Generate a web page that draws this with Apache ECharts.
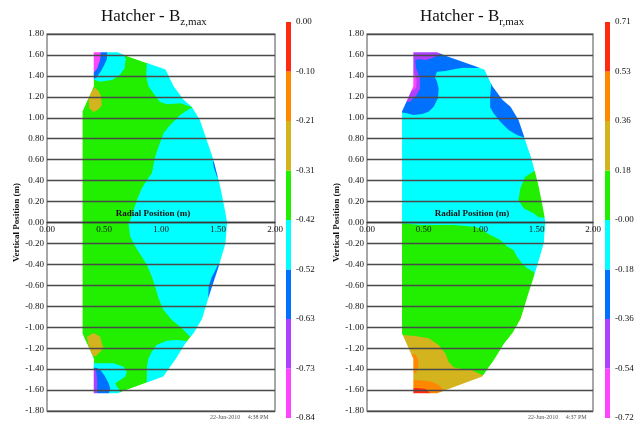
<!DOCTYPE html>
<html>
<head>
<meta charset="utf-8">
<script src="https://cdn.jsdelivr.net/npm/echarts@6/dist/echarts.min.js"></script>
<style>
  html, body { margin: 0; padding: 0; background: #fff; }
  #chart { width: 640px; height: 423px; }
</style>
</head>
<body>
<div id="chart"></div>
<script>
// ---- contour level colours (lowest band first) and colour-bar labels ----
const levelColors = ['#ff44ff', '#b040ff', '#0070ff', '#00ffff', '#22ee00', '#d4b41e', '#ff8800', '#ff2a10'];
const bzLevelLabels = ['-0.84', '-0.73', '-0.63', '-0.52', '-0.42', '-0.31', '-0.21', '-0.10', '0.00'];
const brLevelLabels = ['-0.72', '-0.54', '-0.36', '-0.18', '-0.00', '0.18', '0.36', '0.53', '0.71'];
const stampBz = '22-Jun-2010     4:38 PM';
const stampBr = '22-Jun-2010     4:37 PM';

// ---- vessel cross-section outline, (R, Z) in metres ----
const vesselOutline = [
  [0.41, 1.625], [0.62, 1.625], [0.70, 1.59], [1.04, 1.46], [1.11, 1.30], [1.20, 1.17],
  [1.27, 1.105], [1.34, 0.98], [1.40, 0.79], [1.46, 0.60], [1.52, 0.34], [1.555, 0.15],
  [1.58, 0.0], [1.565, -0.20], [1.50, -0.44], [1.43, -0.67], [1.36, -0.92], [1.29, -1.05],
  [1.21, -1.16], [1.13, -1.30], [1.02, -1.47], [0.62, -1.63], [0.41, -1.63], [0.41, -1.30],
  [0.31, -1.06], [0.31, 1.06], [0.41, 1.30]
];

// ---- Bz,max contour bands ----
const bzCyanTopLeft = [[0.40, 1.66], [0.66, 1.66], [0.69, 1.56], [0.68, 1.47], [0.64, 1.41], [0.57, 1.36], [0.46, 1.345], [0.40, 1.37]];
const bzBlueTopLeft = [[0.40, 1.66], [0.53, 1.66], [0.525, 1.56], [0.50, 1.50], [0.47, 1.44], [0.43, 1.38], [0.40, 1.37]];
const bzPurpleTopLeft = [[0.40, 1.66], [0.49, 1.66], [0.48, 1.54], [0.455, 1.46], [0.42, 1.41], [0.40, 1.41]];
const bzMagentaTopLeft = [[0.40, 1.66], [0.475, 1.66], [0.465, 1.55], [0.44, 1.47], [0.41, 1.43], [0.40, 1.43]];
const bzOliveUpper = [[0.42, 1.29], [0.455, 1.25], [0.475, 1.20], [0.48, 1.12], [0.45, 1.08], [0.41, 1.055], [0.37, 1.09], [0.365, 1.18], [0.39, 1.25]];
const bzCyanTopRight = [[0.86, 1.66], [0.875, 1.52], [0.87, 1.40], [0.89, 1.30], [0.934, 1.234], [0.99, 1.154], [1.05, 1.13], [1.17, 1.138], [1.26, 1.105], [1.45, 1.105], [1.45, 1.66]];
const bzCyanMain = [
  [1.255, 1.09], [1.168, 1.027], [1.08, 0.93], [1.022, 0.852], [0.978, 0.724], [0.949, 0.628],
  [0.934, 0.549], [0.92, 0.47], [0.876, 0.406], [0.832, 0.327], [0.788, 0.215], [0.76, 0.12],
  [0.73, 0.024], [0.715, -0.008], [0.73, -0.136], [0.774, -0.23], [0.832, -0.327], [0.876, -0.406],
  [0.92, -0.518], [0.949, -0.613], [0.978, -0.724], [1.022, -0.836], [1.095, -0.931], [1.183, -1.01],
  [1.255, -1.09], [1.70, -1.09], [1.70, 1.09]
];
const bzCyanBottomRight = [[1.35, -1.13], [1.21, -1.13], [1.14, -1.122], [1.05, -1.13], [0.96, -1.17], [0.92, -1.234], [0.89, -1.297], [0.876, -1.377], [0.876, -1.47], [0.87, -1.68], [1.35, -1.68]];
const bzCyanBottomLeft = [[0.40, -1.345], [0.583, -1.345], [0.672, -1.377], [0.70, -1.425], [0.686, -1.473], [0.642, -1.504], [0.60, -1.536], [0.613, -1.568], [0.64, -1.60], [0.64, -1.68], [0.40, -1.68]];
const bzBlueBottomLeft = [[0.40, -1.385], [0.44, -1.39], [0.47, -1.41], [0.51, -1.47], [0.54, -1.535], [0.555, -1.585], [0.53, -1.68], [0.40, -1.68]];
const bzPurpleBottomLeft = [[0.40, -1.40], [0.43, -1.41], [0.44, -1.50], [0.44, -1.68], [0.40, -1.68]];
const bzOliveLower = [[0.35, -1.09], [0.41, -1.055], [0.467, -1.09], [0.48, -1.154], [0.496, -1.20], [0.452, -1.25], [0.423, -1.28], [0.40, -1.27], [0.37, -1.20]];
const bzBlueEdgeUpper = [[1.455, 0.58], [1.465, 0.52], [1.49, 0.44], [1.53, 0.40], [1.53, 0.60]];
const bzBlueEdgeLower = [[1.50, -0.40], [1.47, -0.47], [1.445, -0.52], [1.418, -0.61], [1.415, -0.70], [1.43, -0.76], [1.55, -0.76], [1.55, -0.40]];

// [band index, polygon], painted in order
const bzBands = [
  [4, vesselOutline],
  [3, bzCyanTopLeft], [1, bzPurpleTopLeft], [2, bzBlueTopLeft], [0, bzMagentaTopLeft],
  [5, bzOliveUpper], [3, bzCyanTopRight], [3, bzCyanMain],
  [3, bzCyanBottomRight], [3, bzCyanBottomLeft], [2, bzBlueBottomLeft], [1, bzPurpleBottomLeft],
  [5, bzOliveLower], [2, bzBlueEdgeUpper], [2, bzBlueEdgeLower]
];

// ---- Br,max contour bands ----
const brGreenLower = [
  [0.25, -0.008], [0.31, -0.008], [0.47, -0.024], [0.77, -0.024], [0.944, -0.04], [1.0, -0.056],
  [1.062, -0.103], [1.18, -0.167], [1.239, -0.23], [1.297, -0.263], [1.327, -0.327], [1.372, -0.39],
  [1.416, -0.437], [1.474, -0.47], [1.49, -0.52], [1.70, -0.52], [1.70, -1.70], [0.25, -1.70]
];
const brGreenEdge = [[1.52, 0.52], [1.474, 0.486], [1.40, 0.437], [1.357, 0.327], [1.34, 0.215], [1.386, 0.135], [1.474, 0.088], [1.52, 0.05], [1.70, 0.03], [1.70, 0.52]];
const brBlueTop = [
  [0.25, 1.70], [1.10, 1.70], [1.03, 1.48], [0.95, 1.475], [0.855, 1.478], [0.78, 1.466], [0.693, 1.447],
  [0.62, 1.44], [0.60, 1.39], [0.62, 1.345], [0.634, 1.28], [0.628, 1.186], [0.59, 1.106], [0.545, 1.058],
  [0.487, 1.036], [0.41, 1.027], [0.354, 1.043], [0.25, 1.06]
];
const brPurpleTop = [
  [0.25, 1.70], [0.70, 1.70], [0.634, 1.60], [0.575, 1.568], [0.516, 1.552], [0.457, 1.56], [0.427, 1.55],
  [0.435, 1.47], [0.47, 1.377], [0.47, 1.28], [0.442, 1.218], [0.41, 1.186], [0.383, 1.154], [0.25, 1.154]
];
const brMagentaTop = [[0.25, 1.42], [0.425, 1.41], [0.44, 1.36], [0.435, 1.29], [0.41, 1.26], [0.25, 1.26]];
const brBlueRight = [[1.10, 1.32], [1.09, 1.20], [1.09, 1.10], [1.12, 1.043], [1.18, 0.963], [1.253, 0.883], [1.327, 0.836], [1.386, 0.814], [1.60, 0.80], [1.60, 1.40], [1.15, 1.40]];
const brOliveLower = [
  [0.25, -1.075], [0.31, -1.075], [0.427, -1.084], [0.545, -1.106], [0.634, -1.17], [0.693, -1.25],
  [0.722, -1.33], [0.766, -1.383], [0.84, -1.40], [0.929, -1.41], [1.018, -1.457], [1.30, -1.46],
  [1.30, -1.70], [0.25, -1.70]
];
const brOliveEdge = [[1.38, -0.86], [1.345, -0.95], [1.31, -1.03], [1.45, -1.03], [1.45, -0.86]];
const brOrangeSpot = [[0.25, -1.24], [0.43, -1.26], [0.455, -1.32], [0.45, -1.40], [0.43, -1.44], [0.25, -1.44]];
const brOrangeBottom = [[0.25, -1.50], [0.412, -1.504], [0.516, -1.51], [0.575, -1.52], [0.634, -1.552], [0.678, -1.60], [0.70, -1.70], [0.25, -1.70]];
const brRedBottom = [[0.25, -1.585], [0.45, -1.58], [0.52, -1.59], [0.56, -1.63], [0.56, -1.70], [0.25, -1.70]];

const brBands = [
  [3, vesselOutline],
  [4, brGreenLower], [4, brGreenEdge], [2, brBlueTop], [1, brPurpleTop], [0, brMagentaTop],
  [2, brBlueRight], [5, brOliveLower], [5, brOliveEdge], [6, brOrangeSpot], [6, brOrangeBottom],
  [7, brRedBottom]
];

// ---- layout ----
const serif = '"Liberation Serif", "DejaVu Serif", serif';
const plotGrids = [
  { left: 47, top: 34, width: 228, height: 377 },
  { left: 367, top: 34, width: 226, height: 377 }
];
const barGrids = [
  { left: 286, top: 22, width: 5, height: 396 },
  { left: 605, top: 22, width: 5, height: 396 }
];

const fmt2 = v => (Math.abs(v) < 1e-9 ? 0 : v).toFixed(2);

function bandSeries(idx, bands) {
  return {
    type: 'custom', xAxisIndex: idx, yAxisIndex: idx, z: 1, silent: true, animation: false,
    data: bands.map((b, i) => [i]),
    renderItem: (params, api) => {
      const band = bands[params.dataIndex];
      return {
        type: 'polygon',
        shape: { points: band[1].map(p => api.coord(p)) },
        style: { fill: levelColors[band[0]], stroke: null }
      };
    }
  };
}

// White out everything in the frame that lies outside the vessel outline
function maskSeries(idx) {
  return {
    type: 'custom', xAxisIndex: idx, yAxisIndex: idx, z: 2, silent: true, animation: false,
    data: [[0]],
    renderItem: (params, api) => {
      const a = api.coord([0, 1.8]), b = api.coord([2, -1.8]);
      let d = `M${a[0] - 2} ${a[1] - 2}L${b[0] + 2} ${a[1] - 2}L${b[0] + 2} ${b[1] + 2}L${a[0] - 2} ${b[1] + 2}Z`;
      const pts = vesselOutline.slice().reverse().map(p => api.coord(p));
      d += 'M' + pts.map(p => p[0] + ' ' + p[1]).join('L') + 'Z';
      return { type: 'path', shape: { pathData: d }, style: { fill: '#fff', stroke: null } };
    }
  };
}

function barSeries(idx) {
  return {
    type: 'custom', xAxisIndex: idx, yAxisIndex: idx, silent: true, animation: false,
    data: levelColors.map((c, i) => [0, i]),
    renderItem: (params, api) => {
      const i = params.dataIndex;
      const p0 = api.coord([0, i + 1]), p1 = api.coord([1, i]);
      return {
        type: 'rect',
        shape: { x: p0[0], y: p0[1], width: p1[0] - p0[0], height: p1[1] - p0[1] },
        style: { fill: levelColors[i] }
      };
    }
  };
}

const chart = echarts.init(document.getElementById('chart'), null, { renderer: 'canvas' });

const xAxes = [], yAxes = [];
[0, 1].forEach(i => {
  xAxes.push({
    gridIndex: i, type: 'value', min: 0, max: 2, interval: 0.5, z: 5,
    position: 'bottom', offset: -plotGrids[i].height / 2,   // axis runs along Z = 0
    name: 'Radial Position (m)', nameLocation: 'middle', nameGap: -13, nameMoveOverlap: false,
    nameTextStyle: { fontFamily: serif, fontSize: 9, fontWeight: 'bold', color: '#111', padding: [0, 16, 0, 0] },
    axisLine: { onZero: false, lineStyle: { color: '#3a3a3a', width: 1.3 } },
    axisTick: { show: false },
    splitLine: { show: false },
    axisLabel: { formatter: fmt2, fontFamily: serif, fontSize: 9, color: '#111', margin: 3, showMinLabel: true, showMaxLabel: true }
  });
  yAxes.push({
    gridIndex: i, type: 'value', min: -1.8, max: 1.8, interval: 0.2, z: 5,
    name: 'Vertical Position (m)', nameLocation: 'middle', nameGap: 24,
    nameTextStyle: { fontFamily: serif, fontSize: 9, fontWeight: 'bold', color: '#111' },
    axisLine: { show: false, onZero: false }, axisTick: { show: false },
    splitLine: { show: true, lineStyle: { color: '#4a4a4a', width: 1.3 } },
    axisLabel: { formatter: fmt2, fontFamily: serif, fontSize: 9, color: '#111', margin: 3 }
  });
});
[0, 1].forEach(i => {
  const labels = i === 0 ? bzLevelLabels : brLevelLabels;
  xAxes.push({ gridIndex: 2 + i, type: 'value', min: 0, max: 1, show: false });
  yAxes.push({
    gridIndex: 2 + i, type: 'value', min: 0, max: 8, interval: 1, position: 'right',
    axisLine: { show: false }, axisTick: { show: false }, splitLine: { show: false },
    axisLabel: { formatter: v => labels[Math.round(v)], fontFamily: serif, fontSize: 9, color: '#111', margin: 5 }
  });
});

const titleRich = {
  a: { fontFamily: serif, fontSize: 17, fontWeight: 'normal', color: '#111', lineHeight: 20, verticalAlign: 'top' },
  b: { fontFamily: serif, fontSize: 11, fontWeight: 'normal', color: '#111', lineHeight: 12, verticalAlign: 'bottom', padding: [10, 0, 0, 0] }
};

chart.setOption({
  animation: false,
  backgroundColor: '#fff',
  title: [
    { text: '{a|Hatcher - B}{b|z,max}', left: 101, top: 8, padding: 0, textStyle: { fontWeight: 'normal', rich: titleRich } },
    { text: '{a|Hatcher - B}{b|r,max}', left: 420, top: 8, padding: 0, textStyle: { fontWeight: 'normal', rich: titleRich } }
  ],
  grid: [
    Object.assign({ show: true, borderColor: '#8a8a8a', borderWidth: 1.5, backgroundColor: 'transparent', z: 4 }, plotGrids[0]),
    Object.assign({ show: true, borderColor: '#8a8a8a', borderWidth: 1.5, backgroundColor: 'transparent', z: 4 }, plotGrids[1]),
    barGrids[0], barGrids[1]
  ],
  xAxis: xAxes,
  yAxis: yAxes,
  graphic: [
    { type: 'text', left: 210, top: 414, style: { text: stampBz, font: '6px ' + serif, fill: '#555' } },
    { type: 'text', left: 528, top: 414, style: { text: stampBr, font: '6px ' + serif, fill: '#555' } }
  ],
  series: [
    bandSeries(0, bzBands), maskSeries(0),
    bandSeries(1, brBands), maskSeries(1),
    barSeries(2), barSeries(3)
  ]
});
</script>
</body>
</html>
